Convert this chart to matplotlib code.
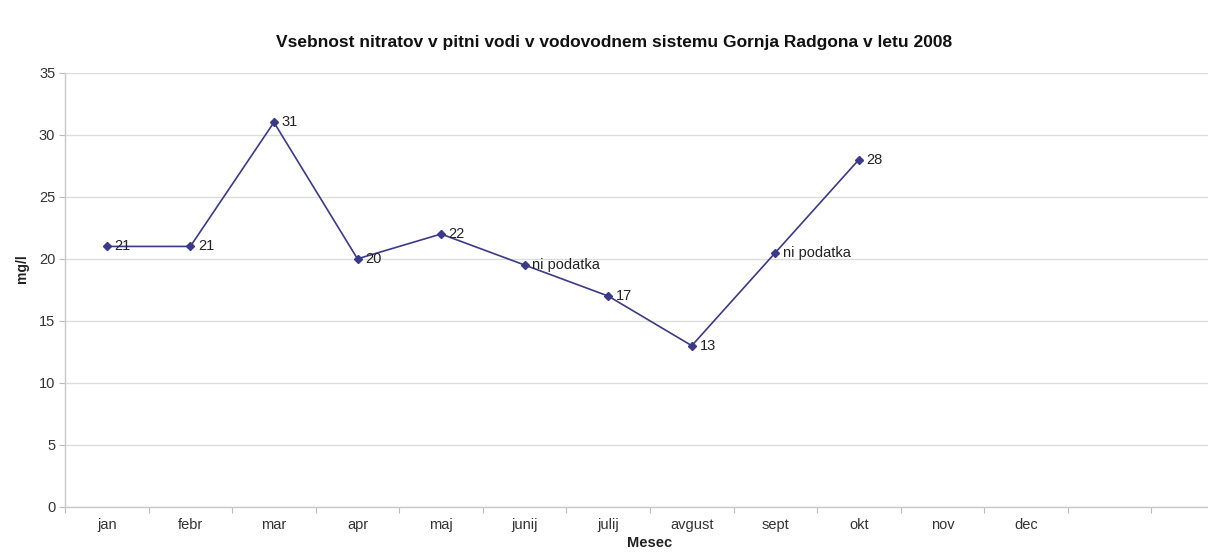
import matplotlib
matplotlib.use("Agg")
import matplotlib.pyplot as plt
from matplotlib.ticker import FixedLocator, NullFormatter

plt.rcParams['font.family'] = ['Liberation Sans', 'DejaVu Sans']

title = "Vsebnost nitratov v pitni vodi v vodovodnem sistemu Gornja Radgona v letu 2008"
months = ["jan", "febr", "mar", "apr", "maj", "junij", "julij", "avgust", "sept", "okt", "nov", "dec"]
values = [21, 21, 31, 20, 22, 19.5, 17, 13, 20.5, 28]
point_labels = ["21", "21", "31", "20", "22", "ni podatka", "17", "13", "ni podatka", "28"]
n_categories = 14
y_ticks = [0, 5, 10, 15, 20, 25, 30, 35]

W, H = 1208, 554
fig = plt.figure(figsize=(W / 100, H / 100), dpi=100)
fig.patch.set_facecolor("white")

left, right, top, bottom = 65, 1235, 72.7, 507
ax = fig.add_axes([left / W, 1 - bottom / H, (right - left) / W, (bottom - top) / H])
ax.set_facecolor("white")

line_color = "#3a3a88"
x = list(range(len(values)))
ax.plot(x, values, color=line_color, lw=1.2, marker="D", ms=4.4,
        markerfacecolor=line_color, markeredgecolor=line_color, zorder=3, clip_on=False)
for xi, yi, lab in zip(x, values, point_labels):
    ax.annotate(lab, (xi, yi), xytext=(5.5, 0), textcoords="offset points",
                ha="left", va="center", fontsize=10.5, color="#222222")

ax.set_xlim(-0.5, n_categories - 0.5)
ax.set_ylim(0, 35)

ax.xaxis.set_major_locator(FixedLocator([i - 0.5 for i in range(n_categories + 1)]))
ax.xaxis.set_major_formatter(NullFormatter())
ax.xaxis.set_minor_locator(FixedLocator(list(range(len(months)))))
ax.set_xticklabels(months, minor=True)
ax.tick_params(axis="x", which="major", length=4, color="#bbbbbb", direction="out")
ax.tick_params(axis="x", which="minor", length=0, pad=8, labelsize=10.5, labelcolor="#333333")

ax.set_yticks(y_ticks)
ax.tick_params(axis="y", length=4, color="#bbbbbb", labelsize=10.5, labelcolor="#333333", pad=3)
ax.grid(axis="y", color="#dcdcdc", lw=1.0)
ax.set_axisbelow(True)

for s in ["top", "right"]:
    ax.spines[s].set_visible(False)
for s in ["left", "bottom"]:
    ax.spines[s].set_color("#c8c8c8")
    ax.spines[s].set_linewidth(1.0)

ax.set_xlabel("Mesec", fontsize=10.5, fontweight="bold", color="#222222")
ax.xaxis.set_label_coords(0.5, -0.066)
ax.set_ylabel("mg/l", fontsize=10, fontweight="bold", color="#222222")
ax.yaxis.set_label_coords(-0.031, 0.55)

fig.text(614 / W, 1 - 43 / H, title, ha="center", va="center", fontsize=12.5,
         fontweight="bold", color="#111111")

fig.savefig("out.png", dpi=100, facecolor="white")
